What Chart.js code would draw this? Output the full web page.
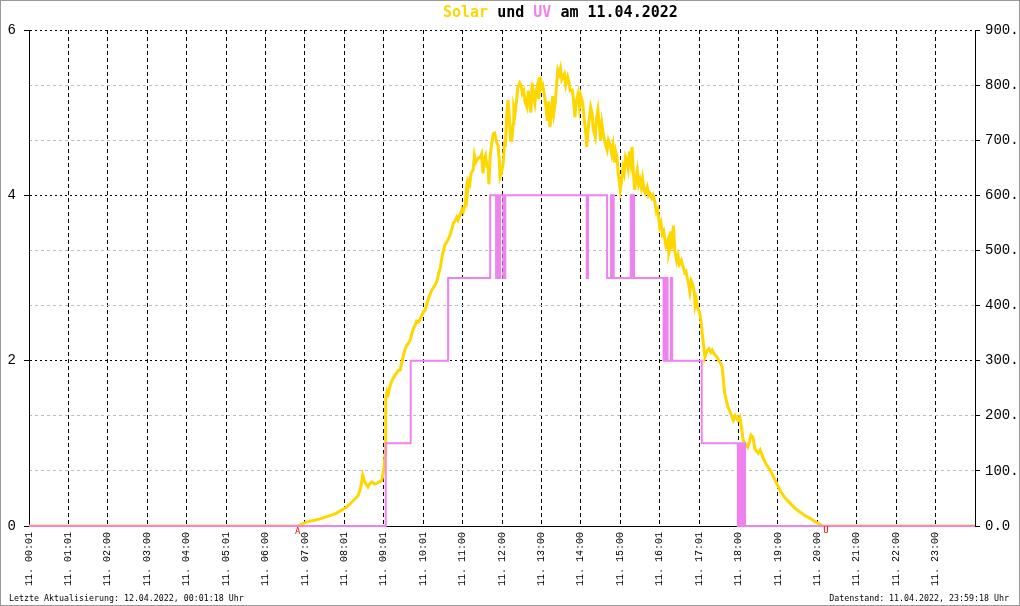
<!DOCTYPE html>
<html>
<head>
<meta charset="utf-8">
<script src="https://cdn.jsdelivr.net/npm/chart.js@4"></script>
<style>
  html, body { margin: 0; padding: 0; background: #fff; }
  #wrap { width: 1020px; height: 606px; }
</style>
</head>
<body>
<div id="wrap"><canvas id="chart" width="1020" height="606"></canvas></div>
<script>
// hour tick labels
var hourLabels = [
  '11. 00:01', '11. 01:01', '11. 02:00', '11. 03:00', '11. 04:00', '11. 05:01',
  '11. 06:00', '11. 07:00', '11. 08:01', '11. 09:01', '11. 10:01', '11. 11:00',
  '11. 12:00', '11. 13:00', '11. 14:00', '11. 15:00', '11. 16:01', '11. 17:01',
  '11. 18:00', '11. 19:00', '11. 20:00', '11. 21:00', '11. 22:00', '11. 23:00'
];

// solar radiation, W/m2 (right axis), by minute of day
var solarMinutes = [
  0, 409, 422, 443, 466, 483, 492, 501, 505, 508,
  511, 516, 519, 522, 526, 531, 537, 540, 542, 543,
  545, 547, 550, 553, 557, 560, 562, 565, 568, 570,
  572, 575, 578, 580, 583, 585, 588, 590, 593, 595,
  598, 600, 603, 606, 610, 613, 618, 621, 624, 626,
  629, 633, 636, 638, 641, 644, 646, 648, 651, 653,
  656, 659, 661, 664, 666, 667, 669, 671, 673, 676,
  678, 680, 682, 684, 687, 689, 691, 693, 695, 697,
  699, 700, 702, 704, 705, 707, 709, 711, 714, 716,
  717, 719, 722, 724, 725, 727, 729, 731, 733, 735,
  737, 738, 740, 742, 744, 747, 749, 751, 753, 755,
  758, 760, 762, 764, 766, 768, 770, 772, 774, 776,
  778, 780, 782, 785, 787, 789, 791, 793, 795, 797,
  799, 801, 803, 805, 807, 809, 811, 813, 815, 817,
  820, 822, 824, 827, 829, 831, 833, 836, 838, 840,
  843, 845, 847, 849, 851, 853, 855, 857, 859, 862,
  864, 866, 868, 870, 872, 874, 876, 878, 880, 882,
  885, 887, 889, 891, 893, 895, 897, 900, 902, 904,
  906, 908, 910, 912, 914, 916, 918, 920, 922, 924,
  926, 928, 930, 932, 934, 936, 938, 941, 943, 945,
  948, 950, 953, 955, 957, 960, 962, 964, 966, 968,
  970, 971, 973, 974, 976, 977, 979, 981, 983, 986,
  988, 990, 993, 996, 998, 1000, 1002, 1004, 1006, 1008,
  1010, 1011, 1013, 1014, 1016, 1018, 1021, 1023, 1026, 1028,
  1029, 1032, 1035, 1038, 1040, 1043, 1047, 1050, 1053, 1055,
  1057, 1059, 1062, 1064, 1068, 1072, 1075, 1079, 1082, 1085,
  1087, 1090, 1094, 1097, 1099, 1102, 1105, 1108, 1110, 1113,
  1117, 1122, 1128, 1135, 1143, 1150, 1158, 1166, 1174, 1182,
  1189, 1195, 1201, 1209, 1440
];
var solarValues = [
  0, 0, 7, 13, 22, 34, 44, 55, 70, 92,
  80, 71, 77, 80, 76, 78, 83, 102, 130, 229,
  245, 240, 256, 265, 274, 278, 282, 283, 300, 310,
  319, 328, 332, 337, 350, 358, 365, 372, 370, 374,
  382, 388, 392, 405, 419, 428, 437, 445, 460, 468,
  490, 510, 515, 520, 528, 540, 550, 552, 560, 555,
  564, 575, 570, 582, 610, 600, 625, 620, 640, 646,
  672, 660, 664, 668, 669, 675, 640, 665, 672, 652,
  650, 620, 672, 690, 700, 712, 713, 700, 690, 660,
  633, 640, 660, 700, 688, 740, 773, 745, 700, 700,
  730, 760, 750, 770, 795, 804, 800, 785, 790, 770,
  760, 790, 770, 750, 804, 780, 767, 790, 800, 775,
  815, 795, 800, 778, 760, 735, 770, 724, 745, 780,
  750, 767, 800, 827, 820, 830, 810, 815, 820, 800,
  815, 805, 790, 791, 770, 742, 770, 785, 760, 780,
  767, 740, 720, 688, 720, 740, 760, 750, 720, 706,
  740, 755, 730, 700, 730, 713, 700, 690, 682, 700,
  690, 676, 690, 660, 680, 669, 640, 610, 625, 650,
  640, 670, 664, 650, 680, 660, 688, 640, 610, 630,
  645, 620, 628, 615, 630, 610, 604, 615, 600, 604,
  595, 600, 586, 570, 575, 543, 550, 530, 535, 519,
  505, 513, 520, 495, 505, 535, 520, 545, 500, 480,
  490, 475, 482, 470, 460, 462, 450, 440, 425, 445,
  440, 435, 420, 400, 410, 395, 387, 370, 337, 315,
  307, 318, 322, 315, 319, 312, 307, 300, 295, 289,
  265, 241, 225, 216, 205, 192, 200, 192, 198, 175,
  156, 150, 143, 155, 165, 161, 140, 135, 132, 138,
  125, 112, 102, 85, 65, 52, 42, 32, 25, 18,
  14, 9, 5, 0, 0
];

// UV index (left axis), value from that minute on
var uvMinutes = [
  0, 543, 581, 638, 702, 711, 712, 715, 717, 722, 725, 849, 851, 880, 886, 887,
  889, 890, 916, 918, 919, 921, 966, 968, 969, 971, 972, 977, 979, 1024, 1079, 1082,
  1084, 1087, 1090, 1440
];
var uvValues = [
  0, 1, 2, 3, 4, 3, 4, 3, 4, 3, 4, 3, 4, 3, 4, 3,
  4, 3, 4, 3, 4, 3, 2, 3, 2, 3, 2, 3, 2, 1, 0, 1,
  0, 1, 0, 0
];

var sunriseMin = 409;  // "A"
var sunsetMin = 1213;  // "U"

var mono = "'Liberation Mono', 'DejaVu Sans Mono', monospace";

function toPoints(xs, ys) {
  return xs.map(function (x, i) { return { x: x, y: ys[i] }; });
}

var frameAndText = {
  id: 'frameAndText',
  afterDraw: function (chart) {
    var ctx = chart.ctx;
    var x = chart.scales.x;
    var base = chart.chartArea.bottom;
    ctx.save();

    // title
    var parts = [['Solar', '#ffd700'], [' und ', '#000'], ['UV', '#ee82ee'], [' am 11.04.2022', '#000']];
    ctx.font = "bold 15px 'DejaVu Sans Mono', monospace";
    ctx.textBaseline = 'middle';
    ctx.textAlign = 'left';
    var tx = 443;
    parts.forEach(function (p) {
      ctx.fillStyle = p[1];
      ctx.fillText(p[0], tx, 13);
      tx += ctx.measureText(p[0]).width;
    });

    // sunrise / sunset markers
    ctx.font = "9px 'DejaVu Sans Mono', monospace";
    ctx.fillStyle = '#ff0000';
    ctx.textAlign = 'center';
    ctx.fillText('A', x.getPixelForValue(sunriseMin), base + 6);
    ctx.fillText('U', x.getPixelForValue(sunsetMin), base + 5);

    // footer
    ctx.font = "8.3px 'DejaVu Sans Mono', monospace";
    ctx.fillStyle = '#000';
    ctx.textAlign = 'left';
    ctx.fillText('Letzte Aktualisierung: 12.04.2022, 00:01:18 Uhr', 9, 599);
    ctx.textAlign = 'right';
    ctx.fillText('Datenstand: 11.04.2022, 23:59:18 Uhr', 1009, 599);

    // frame
    ctx.strokeStyle = '#999';
    ctx.lineWidth = 1;
    ctx.strokeRect(0.5, 0.5, 1019, 605);
    ctx.restore();
  }
};

var ctx = document.getElementById('chart');

var myChart = new Chart(ctx, {
  type: 'line',
  data: {
    datasets: [{
      label: 'UV',
      data: toPoints(uvMinutes, uvValues),
      yAxisID: 'yL',
      borderColor: '#ee82ee',
      borderWidth: 2,
      stepped: true,
      pointRadius: 0,
      clip: 3,
      order: 0
    }, {
      label: 'Solar',
      data: toPoints(solarMinutes, solarValues),
      yAxisID: 'yR',
      borderColor: '#ffd700',
      borderWidth: 3,
      tension: 0,
      pointRadius: 0,
      order: 1
    }]
  },
  options: {
    responsive: false,
    animation: false,
    layout: { padding: { top: 30, left: 0, right: 0, bottom: 0 } },
    plugins: {
      legend: { display: false },
      title: { display: false },
      tooltip: { enabled: false }
    },
    scales: {
      x: {
        type: 'linear',
        min: 0,
        max: 1440,
        afterBuildTicks: function (scale) {
          scale.ticks = hourLabels.map(function (l, i) { return { value: i * 60 }; });
        },
        afterFit: function (scale) { scale.height = 80; },
        ticks: {
          autoSkip: false,
          minRotation: 90,
          maxRotation: 90,
          padding: 6,
          color: '#000',
          font: { family: mono, size: 10 },
          callback: function (v, i) { return hourLabels[i]; }
        },
        grid: { color: '#000', lineWidth: 1, drawTicks: false },
        border: { display: true, color: '#000', width: 1, dash: [4, 3] }
      },
      yL: {
        position: 'left',
        min: 0,
        max: 6,
        afterFit: function (scale) { scale.width = 29; },
        ticks: {
          stepSize: 2,
          padding: 8,
          color: '#000',
          font: { family: mono, size: 14 }
        },
        grid: { color: '#000', lineWidth: 1, tickLength: 5, tickColor: '#000' },
        border: { display: true, color: '#000', width: 1, dash: [2, 3] }
      },
      yR: {
        position: 'right',
        min: 0,
        max: 900,
        afterFit: function (scale) { scale.width = 45; },
        ticks: {
          stepSize: 100,
          padding: 5,
          color: '#000',
          font: { family: mono, size: 14 },
          callback: function (v) { return v.toFixed(1); }
        },
        grid: {
          lineWidth: 1,
          tickLength: 5,
          tickColor: '#000',
          color: function (c) {
            return (c.tick && c.tick.value % 300 === 0) ? 'rgba(0,0,0,0)' : '#bbbbbb';
          }
        },
        border: { display: true, color: '#000', width: 1, dash: [3, 3] }
      }
    }
  },
  plugins: [frameAndText]
});
</script>
</body>
</html>
